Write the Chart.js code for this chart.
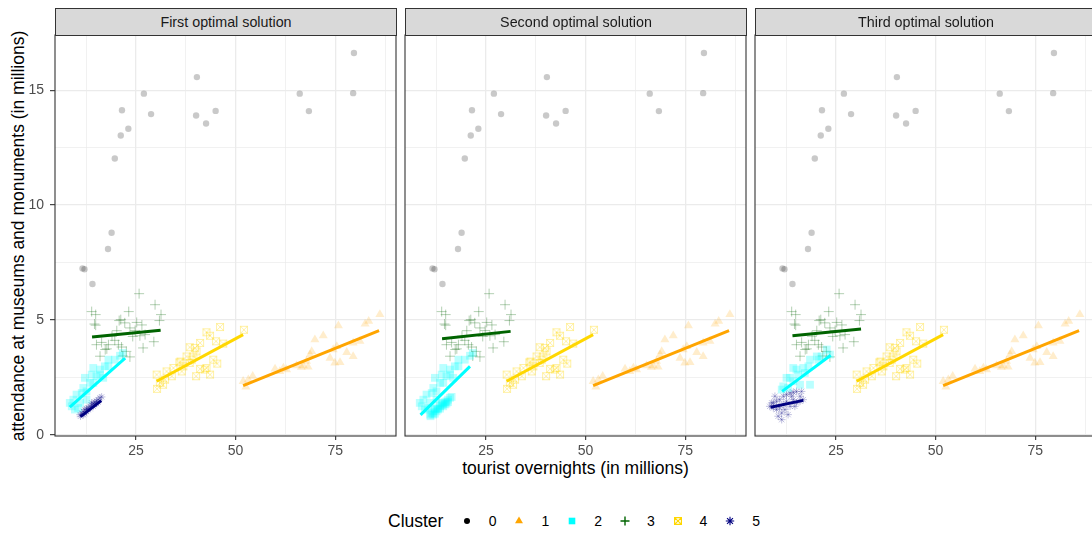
<!DOCTYPE html>
<html><head><meta charset="utf-8">
<script src="https://cdn.jsdelivr.net/npm/chart.js@4.4.1/dist/chart.umd.min.js"></script>
<style>
html,body{margin:0;padding:0;background:#fff;}
body{width:1092px;height:533px;overflow:hidden;position:relative;font-family:"Liberation Sans",Arial,Helvetica,sans-serif;}
canvas.pc{position:absolute;}
.strip{position:absolute;top:8px;height:28px;width:342px;box-sizing:border-box;border:1px solid #333;background:#d9d9d9;color:#1a1a1a;font-size:14.3px;display:flex;align-items:center;justify-content:center;white-space:nowrap;z-index:2;}
#xtitle{position:absolute;left:55px;width:1041px;top:457px;height:22px;line-height:22px;text-align:center;font-size:17.5px;color:#000;white-space:nowrap;}
#ytitle{position:absolute;left:-202.5px;top:224.5px;width:440px;height:22px;line-height:22px;text-align:center;font-size:17.5px;color:#000;transform:rotate(-90deg);white-space:nowrap;}
.lg{position:absolute;height:22px;line-height:22px;white-space:nowrap;color:#000;}
canvas.li{position:absolute;}
</style></head>
<body>
<div id="ytitle">attendance at museums and monuments (in millions)</div>
<div id="xtitle">tourist overnights (in millions)</div>
<div id="legend"></div>
<script>
// ---------- DATA ----------
const panelTitles = ['First optimal solution', 'Second optimal solution', 'Third optimal solution'];
const clusters = ['0', '1', '2', '3', '4', '5'];
const xTickLabels = [25, 50, 75];
const yTickLabels = [0, 5, 10, 15];

// cluster 0 (same in every panel)
const c0x = [79.7, 79.5, 40.3, 27.0, 28.8, 21.5, 21.2, 23.1, 19.7, 40.1, 42.6, 45.0, 66.1, 68.4, 18.9, 18.0, 11.6, 12.1, 14.1];
const c0y = [16.62, 14.87, 15.57, 14.85, 13.96, 14.13, 13.03, 13.32, 12.03, 13.90, 13.55, 14.10, 14.85, 14.09, 8.80, 8.09, 7.25, 7.21, 6.57];

// cluster 1 (same in every panel)
const c1x = [86.2, 83.4, 82.5, 75.8, 72.0, 69.9, 69.1, 68.7, 74.5, 77.9, 79.5, 73.7, 74.9, 76.2, 68.2, 67.0, 65.3, 62.8, 62.0, 59.9, 61.1, 54.3, 53.2, 51.9, 52.6, 81.2, 79.5, 75.4, 67.8, 66.5];
const c1y = [5.25, 4.95, 4.83, 4.76, 4.32, 4.15, 3.64, 3.50, 3.72, 3.60, 3.42, 3.35, 3.14, 3.16, 2.96, 3.02, 3.02, 2.85, 2.92, 2.88, 2.77, 2.56, 2.41, 2.34, 2.09, 4.08, 4.01, 3.86, 3.21, 2.95];

// cluster 3 (same in every panel)
const c3x = [25.8, 29.8, 31.3, 30.9, 13.9, 14.9, 14.6, 14.9, 23.2, 21.2, 20.8, 22.2, 25.2, 26.5, 23.5, 20.2, 27.3, 24.2, 26.0, 29.5, 15.1, 16.4, 18.1, 19.7, 20.6, 21.4, 17.3, 17.7, 22.6, 23.5, 21.7, 26.8, 16.0, 19.0, 24.8];
const c3y = [6.15, 5.67, 5.24, 4.98, 5.37, 5.24, 4.83, 4.78, 5.37, 5.02, 4.98, 4.88, 4.90, 4.79, 4.66, 4.54, 4.37, 4.29, 4.32, 4.06, 3.93, 4.03, 3.93, 4.12, 3.93, 3.83, 3.72, 3.75, 3.64, 3.40, 3.44, 3.79, 3.43, 4.30, 4.55];

// cluster 4 (same in every panel)
const c4x = [46.1, 52.1, 42.7, 43.6, 45.1, 41.1, 38.5, 39.8, 46.9, 37.7, 39.0, 35.9, 36.9, 34.4, 32.7, 34.0, 32.3, 30.2, 31.0, 30.3, 40.2, 38.5, 39.4, 42.7, 44.4, 45.4, 40.1, 41.1, 43.6, 42.3, 36.5, 31.8, 36.2];
const c4y = [4.70, 4.58, 4.47, 4.32, 4.08, 4.01, 3.82, 3.79, 3.98, 3.42, 3.28, 3.16, 2.99, 2.92, 2.77, 2.56, 2.41, 2.63, 2.27, 2.01, 3.64, 3.14, 3.42, 2.92, 3.28, 3.11, 2.56, 2.88, 2.63, 2.85, 2.77, 2.19, 3.20];

// panel 1: clusters 2 and 5
const p1c2x = [21.0, 19.7, 18.1, 17.2, 16.0, 14.3, 13.9, 15.1, 12.2, 13.5, 11.8, 11.4, 12.6, 10.1, 9.3, 8.9, 9.7, 11.0, 14.3, 16.0, 18.1, 16.8, 12.6, 10.5, 21.7, 8.4];
const p1c2y = [3.45, 3.28, 3.28, 2.99, 2.85, 2.92, 2.63, 2.56, 2.49, 2.27, 2.05, 1.83, 1.90, 1.76, 1.54, 1.25, 1.11, 1.40, 2.27, 2.63, 2.99, 2.49, 1.54, 1.18, 3.57, 1.40];
const p1c5x = [11.0, 11.4, 11.8, 12.2, 12.6, 13.0, 13.5, 13.9, 14.3, 14.7, 15.1, 15.5, 16.0, 11.8, 12.6, 13.5, 14.3, 15.1, 13.9, 13.0, 12.2, 15.5, 14.7, 16.4, 11.1];
const p1c5y = [0.89, 0.96, 1.03, 1.11, 1.14, 1.18, 1.25, 1.30, 1.37, 1.43, 1.47, 1.54, 1.62, 0.89, 1.03, 1.15, 1.25, 1.37, 1.40, 1.11, 0.93, 1.43, 1.33, 1.66, 0.82];

// panel 2: cluster 2 holds both groups of panel 1
const p2c2x = p1c2x.concat(p1c5x);
const p2c2y = p1c2y.concat(p1c5y);

// panel 3: clusters 2 and 5
const p3c2x = [22.7, 23.5, 21.4, 20.6, 18.5, 18.1, 16.8, 15.1, 14.3, 15.5, 13.5, 12.6, 11.8, 13.0, 16.0, 18.5, 14.3, 11.4, 20.2, 17.2];
const p3c2y = [3.72, 3.50, 3.42, 3.28, 3.28, 2.99, 2.92, 2.85, 2.92, 2.63, 2.49, 2.49, 2.12, 2.05, 2.19, 2.19, 2.34, 1.98, 3.42, 2.70];
const p3c5x = [8.4, 9.3, 10.1, 10.9, 11.8, 12.6, 13.5, 14.3, 15.1, 16.4, 16.8, 16.0, 14.3, 12.6, 11.8, 10.9, 10.1, 9.3, 11.4, 12.2, 13.5, 15.1, 16.0, 10.5, 11.4, 13.0, 8.9, 9.7, 13.9, 14.7];
const p3c5y = [1.25, 1.40, 1.47, 1.54, 1.69, 1.76, 1.83, 1.86, 1.90, 1.90, 1.54, 1.69, 1.54, 1.47, 1.33, 1.18, 1.11, 1.18, 0.96, 1.11, 1.25, 1.40, 1.47, 0.82, 0.67, 0.89, 1.40, 1.69, 1.69, 1.25];

// fitted lines (start / end of each cluster fit), per panel
const fit1x = [51.9, 86.0], fit1y = [2.15, 4.54];
const fit4x = [30.2, 51.9], fit4y = [2.34, 4.37];
const p1fit2x = [8.4, 22.3], p1fit2y = [1.22, 3.35];
const p1fit3x = [14.0, 31.2], p1fit3y = [4.27, 4.56];
const p1fit5x = [11.1, 16.3], p1fit5y = [0.80, 1.50];
const p2fit2x = [8.6, 21.0], p2fit2y = [0.88, 2.99];
const p2fit3x = [14.0, 31.2], p2fit3y = [4.19, 4.51];
const p3fit2x = [11.5, 23.7], p3fit2y = [1.90, 3.47];
const p3fit3x = [14.1, 31.3], p3fit3y = [4.32, 4.61];
const p3fit5x = [8.6, 16.8], p3fit5y = [1.21, 1.51];

// ---------- STYLE ----------
const FONT = '"Liberation Sans", Arial, Helvetica, sans-serif';
Chart.defaults.font.family = FONT;
const COLORS = {'0': '#000000', '1': '#FFA500', '2': '#00FFFF', '3': '#006400', '4': '#FFD700', '5': '#000080'};
const PLOT_TOP = 35, PLOT_H = 401, PLOT_W = 341, PANEL_LEFTS = [55, 405, 755];
const XMIN = 4.7, XMAX = 90.25, YMIN = -0.04, YMAX = 17.4;
const PAD_T = 30, PAD_S = 6, X_AXIS_H = 35;

function pts(xs, ys) { return xs.map((x, i) => ({x: x, y: ys[i]})); }

function squareCrossImage(color, size, lw) {
  const c = document.createElement('canvas');
  c.width = size + 2; c.height = size + 2;
  const g = c.getContext('2d');
  g.strokeStyle = color; g.lineWidth = lw;
  const o = 1, s = size;
  g.strokeRect(o + 0.5, o + 0.5, s - 1, s - 1);
  g.beginPath();
  g.moveTo(o + 0.5, o + 0.5); g.lineTo(o + s - 0.5, o + s - 0.5);
  g.moveTo(o + s - 0.5, o + 0.5); g.lineTo(o + 0.5, o + s - 0.5);
  g.stroke();
  return c;
}
const sqCross = squareCrossImage('rgba(255,215,0,0.35)', 8, 1);

function scatterDs(cl, xs, ys) {
  const base = {type: 'scatter', data: pts(xs, ys), order: 2, pointHoverRadius: 0};
  switch (cl) {
    case '0': return Object.assign(base, {pointStyle: 'circle', pointRadius: 3.2, pointBackgroundColor: 'rgba(0,0,0,0.21)', pointBorderWidth: 0});
    case '1': return Object.assign(base, {pointStyle: 'triangle', pointRadius: 5.2, pointBackgroundColor: 'rgba(255,165,0,0.2)', pointBorderWidth: 0});
    case '2': return Object.assign(base, {pointStyle: 'rect', pointRadius: 5.5, pointBackgroundColor: 'rgba(0,255,255,0.27)', pointBorderWidth: 0});
    case '3': return Object.assign(base, {pointStyle: 'cross', pointRadius: 5, pointBorderColor: 'rgba(0,100,0,0.3)', pointBackgroundColor: 'rgba(0,0,0,0)', pointBorderWidth: 1});
    case '4': return Object.assign(base, {pointStyle: sqCross, pointRadius: 5});
    case '5': return Object.assign(base, {pointStyle: 'star', pointRadius: 3.8, pointBorderColor: 'rgba(0,0,128,0.28)', pointBackgroundColor: 'rgba(0,0,0,0)', pointBorderWidth: 0.9});
  }
}
function lineDs(cl, xs, ys) {
  return {type: 'line', data: pts(xs, ys), borderColor: COLORS[cl], borderWidth: 3, pointRadius: 0, pointHoverRadius: 0, fill: false, order: 0, borderCapStyle: 'butt'};
}

const panels = [
  {points: [['0', c0x, c0y], ['1', c1x, c1y], ['2', p1c2x, p1c2y], ['3', c3x, c3y], ['4', c4x, c4y], ['5', p1c5x, p1c5y]],
   fits: [['1', fit1x, fit1y], ['2', p1fit2x, p1fit2y], ['3', p1fit3x, p1fit3y], ['4', fit4x, fit4y], ['5', p1fit5x, p1fit5y]]},
  {points: [['0', c0x, c0y], ['1', c1x, c1y], ['2', p2c2x, p2c2y], ['3', c3x, c3y], ['4', c4x, c4y]],
   fits: [['1', fit1x, fit1y], ['2', p2fit2x, p2fit2y], ['3', p2fit3x, p2fit3y], ['4', fit4x, fit4y]]},
  {points: [['0', c0x, c0y], ['1', c1x, c1y], ['2', p3c2x, p3c2y], ['3', c3x, c3y], ['4', c4x, c4y], ['5', p3c5x, p3c5y]],
   fits: [['1', fit1x, fit1y], ['2', p3fit2x, p3fit2y], ['3', p3fit3x, p3fit3y], ['4', fit4x, fit4y], ['5', p3fit5x, p3fit5y]]}
];

const framePlugin = {
  id: 'frame',
  afterDraw(chart) {
    const a = chart.chartArea, c = chart.ctx;
    c.save(); c.strokeStyle = '#333333'; c.lineWidth = 1.1;
    c.strokeRect(a.left, a.top, a.right - a.left, a.bottom - a.top);
    c.restore();
  }
};

const xTicksAll = [12.5, 25, 37.5, 50, 62.5, 75, 87.5];
const yTicksAll = [0, 2.5, 5, 7.5, 10, 12.5, 15];

panels.forEach((p, i) => {
  const first = i === 0;
  const yAxisW = first ? 55 : 0;
  const padL = first ? 0 : PAD_S;
  const cv = document.createElement('canvas');
  cv.className = 'pc';
  const w = padL + yAxisW + PLOT_W + PAD_S, h = PAD_T + PLOT_H + X_AXIS_H;
  cv.width = w; cv.height = h;
  cv.style.left = (PANEL_LEFTS[i] - yAxisW - padL) + 'px';
  cv.style.top = (PLOT_TOP - PAD_T) + 'px';
  cv.style.width = w + 'px'; cv.style.height = h + 'px';
  document.body.appendChild(cv);

  const strip = document.createElement('div');
  strip.className = 'strip';
  strip.style.left = PANEL_LEFTS[i] + 'px';
  strip.textContent = panelTitles[i];
  document.body.appendChild(strip);

  const datasets = [];
  p.fits.forEach(f => datasets.push(lineDs(f[0], f[1], f[2])));
  p.points.forEach(s => datasets.push(scatterDs(s[0], s[1], s[2])));

  const chart = new Chart(cv.getContext('2d'), {
    type: 'scatter',
    data: {datasets: datasets},
    plugins: [framePlugin],
    options: {
      responsive: false, animation: false, devicePixelRatio: 1,
      layout: {padding: {top: PAD_T, bottom: 0, left: padL, right: PAD_S}},
      plugins: {legend: {display: false}, tooltip: {enabled: false}},
      events: [],
      scales: {
        x: {
          type: 'linear', min: XMIN, max: XMAX,
          afterBuildTicks: s => { s.ticks = xTicksAll.map(v => ({value: v})); },
          afterFit: s => { s.height = X_AXIS_H; },
          border: {display: false},
          grid: {
            color: '#ebebeb',
            lineWidth: ctx => (ctx.tick && xTickLabels.includes(ctx.tick.value)) ? 1.3 : 0.7,
            drawTicks: true, tickLength: 4, tickWidth: 1.1,
            tickColor: ctx => (ctx.tick && xTickLabels.includes(ctx.tick.value)) ? '#333333' : 'rgba(0,0,0,0)'
          },
          ticks: {
            autoSkip: false, maxRotation: 0, padding: 3, color: '#4d4d4d',
            font: {size: 14, family: FONT},
            callback: v => xTickLabels.includes(v) ? String(v) : ''
          }
        },
        y: {
          type: 'linear', min: YMIN, max: YMAX,
          afterBuildTicks: s => { s.ticks = yTicksAll.map(v => ({value: v})); },
          afterFit: s => { s.width = yAxisW; },
          border: {display: false},
          grid: {
            color: '#ebebeb',
            lineWidth: ctx => (ctx.tick && yTickLabels.includes(ctx.tick.value)) ? 1.3 : 0.7,
            drawTicks: first, tickLength: 5, tickWidth: 1.1,
            tickColor: ctx => (ctx.tick && yTickLabels.includes(ctx.tick.value)) ? '#333333' : 'rgba(0,0,0,0)'
          },
          ticks: {
            display: first, autoSkip: false, padding: 6, color: '#4d4d4d',
            font: {size: 14, family: FONT},
            callback: v => yTickLabels.includes(v) ? String(v) : ''
          }
        }
      }
    }
  });
  // make the plotting area exactly the intended panel size, then align it
  let a = chart.chartArea;
  const dw = PLOT_W - (a.right - a.left), dh = PLOT_H - (a.bottom - a.top);
  if (Math.abs(dw) > 0.2 || Math.abs(dh) > 0.2) {
    const nw = Math.round(w + dw), nh = Math.round(h + dh);
    cv.style.width = nw + 'px'; cv.style.height = nh + 'px';
    chart.resize(nw, nh);
    a = chart.chartArea;
  }
  cv.style.left = (PANEL_LEFTS[i] - a.left) + 'px';
  cv.style.top = (PLOT_TOP - a.top) + 'px';
});

// ---------- LEGEND ----------
function drawIcon(g, cl, cx, cy) {
  g.fillStyle = COLORS[cl]; g.strokeStyle = COLORS[cl];
  g.beginPath();
  if (cl === '0') { g.arc(cx, cy, 3, 0, Math.PI * 2); g.fill(); }
  else if (cl === '1') { const r = 4.6; g.moveTo(cx, cy - r); g.lineTo(cx + r * 0.866, cy + r / 2); g.lineTo(cx - r * 0.866, cy + r / 2); g.closePath(); g.fill(); }
  else if (cl === '2') { g.rect(cx - 3.3, cy - 3.3, 6.6, 6.6); g.fill(); }
  else if (cl === '3') { g.lineWidth = 1.4; g.moveTo(cx - 4.5, cy); g.lineTo(cx + 4.5, cy); g.moveTo(cx, cy - 4.5); g.lineTo(cx, cy + 4.5); g.stroke(); }
  else if (cl === '4') { g.lineWidth = 1.2; g.rect(cx - 3.4, cy - 3.4, 6.8, 6.8); g.moveTo(cx - 3.4, cy - 3.4); g.lineTo(cx + 3.4, cy + 3.4); g.moveTo(cx + 3.4, cy - 3.4); g.lineTo(cx - 3.4, cy + 3.4); g.stroke(); }
  else if (cl === '5') { g.lineWidth = 1.1; const r = 4.2; for (let k = 0; k < 4; k++) { const an = k * Math.PI / 4; g.moveTo(cx - r * Math.cos(an), cy - r * Math.sin(an)); g.lineTo(cx + r * Math.cos(an), cy + r * Math.sin(an)); } g.stroke(); }
}
const legend = document.getElementById('legend');
const LEG_Y = 520.5;
const title = document.createElement('div');
title.className = 'lg'; title.style.left = '388px'; title.style.top = (LEG_Y - 11) + 'px'; title.style.fontSize = '17.5px';
title.textContent = 'Cluster';
legend.appendChild(title);
clusters.forEach((cl, k) => {
  const sx = 466.7 + 52.7 * k;
  const ic = document.createElement('canvas');
  ic.className = 'li'; ic.width = 14; ic.height = 14;
  ic.style.left = (sx - 7) + 'px'; ic.style.top = (LEG_Y - 7) + 'px';
  drawIcon(ic.getContext('2d'), cl, 7, 7);
  legend.appendChild(ic);
  const lb = document.createElement('div');
  lb.className = 'lg'; lb.style.fontSize = '14px';
  lb.style.left = (sx + 26 - 10) + 'px'; lb.style.width = '20px'; lb.style.textAlign = 'center';
  lb.style.top = (LEG_Y - 11) + 'px';
  lb.textContent = cl;
  legend.appendChild(lb);
});
</script>
</body></html>
